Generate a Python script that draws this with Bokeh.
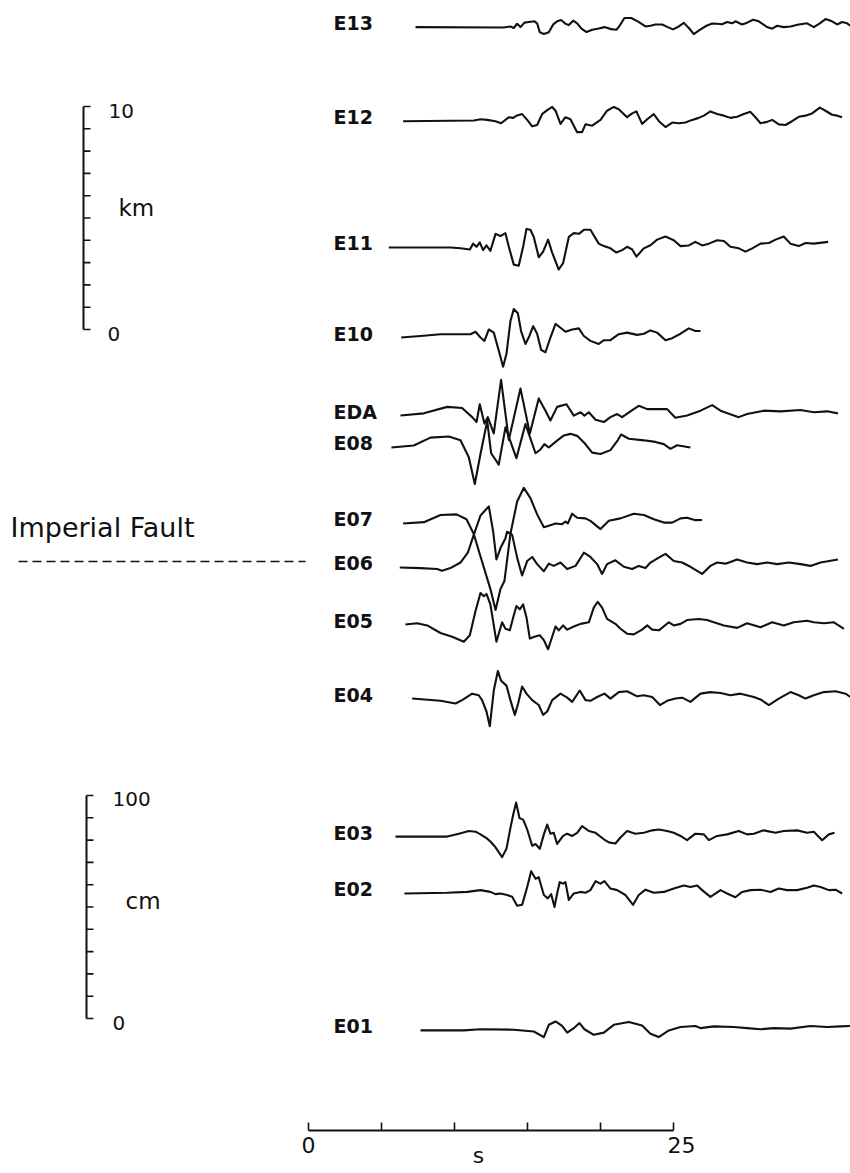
import numpy as np
from bokeh.plotting import figure
from bokeh.models import Range1d
from bokeh.core.properties import value
from bokeh.embed import file_html
from bokeh.resources import INLINE

# ---------------- data ----------------
stations = ["E13", "E12", "E11", "E10", "EDA", "E08", "E07",
            "E06", "E05", "E04", "E03", "E02", "E01"]
# vertical placement of each trace on the section (km, same scale as km bar)
station_km = [13.56, 9.37, 3.68, -0.36, -3.86, -5.29, -8.70,
              -10.67, -13.23, -16.55, -22.74, -25.29, -31.43]

time_ticks = [0, 5, 10, 15, 20, 25]
time_tick_labels = {0: "0", 25: "25"}
km_ticks = [0, 1, 2, 3, 4, 5, 6, 7, 8, 9, 10]
cm_ticks = [0, 10, 20, 30, 40, 50, 60, 70, 80, 90, 100]

# (time s, displacement cm)
E13 = [(7.33, 0), (13.38, -0.15), (13.83, 0.3), (14.06, -0.4), (14.29, 1.5), (14.52, 0),
       (14.79, 2.0), (15.09, 2.3), (15.48, 2.6), (15.66, 1.7), (15.84, -2.3), (16.12, -3.1),
       (16.46, -2.3), (16.76, 1.2), (17.03, 2.6), (17.30, 3.2), (17.60, 1.5), (17.83, 0.9),
       (18.13, 2.9), (18.40, 1.7), (18.70, -0.7), (19.04, -2.2), (19.43, -1.2), (19.88, -0.6),
       (20.27, 0), (20.73, -0.9), (21.09, -1.2), (21.32, 0.7), (21.64, 4.1), (22.10, 4.1),
       (22.55, 2.6), (23.08, 0.3), (23.42, 0.6), (23.76, 1.2), (24.22, 1.2), (24.61, 0),
       (24.97, -1.0), (25.36, 0.3), (25.71, 1.9), (26.05, -0.4), (26.39, -3.1), (26.80, -1.2),
       (27.26, 0.6), (27.65, 1.6), (27.99, 1.5), (28.33, 1.3), (28.67, 2.3), (29.02, 1.7),
       (29.24, 2.6), (29.70, 1.2), (30.04, 2.0), (30.45, 3.3), (30.84, 2.6), (31.41, 0),
       (31.76, -0.7), (32.10, 0.6), (32.55, 0), (33.01, 0.3), (33.58, 1.2), (34.15, 1.7),
       (34.61, 0), (35.02, 1.7), (35.41, 3.6), (35.86, 2.6), (36.21, 1.2), (36.55, 2.3),
       (36.89, 1.7), (37.12, 0.6)]

E12 = [(6.48, -0.3), (11.32, 0), (11.78, 0.6), (12.24, 0.3), (12.81, -0.3), (13.19, -1.2),
       (13.49, 0.3), (13.72, 1.5), (14.02, 1.2), (14.29, 2.3), (14.63, 2.9), (14.98, 0.3),
       (15.32, -2.6), (15.66, -2.0), (16.00, 2.9), (16.35, 4.7), (16.69, 6.1), (16.92, 4.4),
       (17.26, -1.5), (17.60, 1.5), (17.94, 0.6), (18.40, -5.2), (18.74, -5.2), (18.97, -1.7),
       (19.43, -2.3), (20.00, 0.3), (20.45, 4.4), (20.91, 6.1), (21.25, 5.1), (21.82, 1.5),
       (22.17, 3.2), (22.46, 4.1), (22.85, -1.5), (23.20, 0.6), (23.65, 2.9), (24.00, -0.3),
       (24.45, -2.9), (24.91, -0.9), (25.36, -1.2), (25.82, -0.9), (26.28, 0.3), (26.73, 1.2),
       (27.08, 2.2), (27.53, 4.1), (27.99, 2.9), (28.45, 2.2), (28.90, 1.2), (29.36, 1.7),
       (29.82, 2.9), (30.27, 3.9), (30.61, 1.5), (30.96, -1.2), (31.41, -0.6), (31.76, 0.3),
       (32.21, -1.7), (32.67, -2.0), (33.12, -0.3), (33.58, 1.7), (34.04, 2.2), (34.49, 3.2),
       (35.02, 5.8), (35.41, 4.4), (35.86, 2.6), (36.21, 2.2), (36.55, 1.5)]

E11 = [(5.50, 0), (9.72, 0), (10.41, -0.4), (11.05, -0.9), (11.28, 1.7), (11.51, 0.3),
       (11.73, 2.3), (11.96, -1.2), (12.19, 0.9), (12.46, -1.5), (12.81, 6.1), (13.15, 5.1),
       (13.49, 6.4), (13.72, 0.3), (14.06, -7.7), (14.40, -8.2), (14.70, 0.3), (14.93, 8.3),
       (15.20, 7.9), (15.43, 4.7), (15.77, -4.4), (16.07, -1.9), (16.41, 3.5), (16.69, -2.3),
       (17.14, -9.9), (17.44, -7.0), (17.83, 4.7), (18.17, 6.4), (18.52, 6.1), (18.86, 7.9),
       (19.31, 7.9), (19.88, 1.7), (20.23, 0.6), (20.68, -0.4), (21.09, -2.3), (21.48, -1.2),
       (21.82, 0.3), (22.17, -0.9), (22.46, -4.1), (22.97, -0.4), (23.42, 1.0), (23.88, 3.5),
       (24.45, 4.9), (25.02, 3.2), (25.48, 0.6), (26.05, 0.9), (26.50, 2.5), (26.96, 0.9),
       (27.42, 1.7), (27.99, 3.2), (28.45, 2.9), (28.90, 0.3), (29.47, -0.4), (29.93, -1.9),
       (30.39, -0.4), (30.96, 1.7), (31.53, 2.0), (31.99, 3.5), (32.55, 4.9), (33.01, 1.7),
       (33.58, 0.6), (34.04, 2.0), (34.61, 1.7), (35.59, 2.5)]

E10 = [(6.35, 0), (7.67, 0.7), (9.04, 1.5), (11.09, 1.5), (11.44, 2.6), (11.78, 0),
       (12.05, -1.5), (12.35, 3.6), (12.69, 2.2), (13.03, -5.8), (13.33, -13.1), (13.56, -7.3),
       (13.83, 7.3), (14.06, 12.8), (14.34, 10.9), (14.56, 2.9), (14.86, -2.9), (15.13, 0.7),
       (15.39, 5.1), (15.66, 1.7), (15.93, -5.5), (16.23, -6.6), (16.57, 0), (16.92, 6.1),
       (17.26, 4.4), (17.60, 2.6), (18.06, 3.6), (18.52, 4.1), (18.86, 0.7), (19.31, -1.5),
       (19.88, -2.9), (20.23, -1.2), (20.68, -1.2), (21.25, 1.5), (21.82, 2.2), (22.51, 1.2),
       (22.97, 1.7), (23.42, 3.2), (23.88, 2.2), (24.45, -1.2), (24.91, -0.3), (25.48, 1.7),
       (26.05, 4.1), (26.50, 2.9), (26.85, 2.9)]

EDA = [(6.30, 0), (7.90, 1.0), (9.50, 3.9), (10.52, 3.4), (11.21, -0.7), (11.51, -2.9),
       (11.73, 5.1), (12.05, -3.6), (12.28, -0.7), (12.69, -8.0), (13.19, 16.0), (13.72, -10.9),
       (14.52, 12.1), (15.16, -8.0), (15.77, 7.7), (16.23, 2.2), (16.57, -2.2), (17.03, 3.9),
       (17.67, 5.1), (18.17, 0), (18.63, 1.5), (18.90, 0), (19.20, 1.5), (19.66, -1.9),
       (20.23, -2.9), (20.68, -0.7), (21.14, 0.7), (21.48, -0.7), (22.28, 2.9), (22.62, 4.4),
       (23.20, 2.9), (24.56, 2.9), (25.13, -1.0), (25.93, 0), (26.85, 2.2), (27.65, 4.7),
       (28.22, 2.2), (29.47, -0.7), (30.04, 0.7), (31.18, 2.2), (32.33, 1.9), (33.70, 2.5),
       (34.61, 1.5), (35.52, 1.9), (36.26, 1.0)]

E08 = [(5.68, 0), (7.21, 0.9), (8.35, 4.4), (9.61, 4.9), (10.41, 3.2), (10.98, -4.4),
       (11.39, -16.4), (11.78, -2.9), (12.24, 11.9), (12.51, -2.6), (13.03, -7.7), (13.49, 9.0),
       (14.24, -4.8), (14.86, 10.5), (15.55, -2.6), (15.89, -0.9), (16.16, 1.5), (16.46, 0),
       (16.92, 2.5), (17.49, 5.4), (17.94, 6.1), (18.40, 5.2), (18.90, 2.0), (19.43, -2.3),
       (20.00, -2.9), (20.68, -1.2), (21.18, 3.2), (21.41, 5.8), (21.94, 3.9), (22.97, 3.2),
       (23.76, 2.5), (24.34, 1.5), (24.79, -0.6), (25.25, 1.0), (26.16, 0)]

E07 = [(6.48, 0), (7.90, 0.6), (9.04, 3.8), (10.14, 4.1), (10.82, 1.9), (11.32, -4.7),
       (11.78, -14.8), (12.19, -23.6), (12.46, -29.4), (12.81, -38.8), (13.15, -29.4),
       (13.42, -25.8), (13.83, -4.7), (14.29, 9.9), (14.75, 16.0), (15.20, 11.4), (15.66, 4.1),
       (16.12, -1.7), (16.46, -1.0), (16.92, 0), (17.37, -0.3), (17.60, 0.9), (17.76, 0),
       (18.06, 4.4), (18.40, 2.6), (18.97, 2.3), (19.31, 1.2), (20.00, -2.5), (20.57, 1.2),
       (21.37, 2.3), (22.28, 4.4), (22.97, 3.8), (23.65, 1.9), (24.34, 0.4), (24.91, 0.4),
       (25.48, 2.3), (25.93, 2.6), (26.50, 1.5), (26.96, 1.6)]

E06 = [(6.25, 0), (7.67, -0.3), (8.81, -0.7), (9.15, -1.5), (9.72, -0.3), (10.41, 2.2),
       (10.91, 6.6), (11.32, 14.6), (11.78, 23.3), (12.35, 27.4), (12.65, 16.0), (12.87, 3.6),
       (13.15, 8.7), (13.49, 13.1), (13.60, 16.0), (13.95, 14.6), (14.29, 4.4), (14.63, -3.6),
       (14.98, 2.9), (15.32, 4.7), (15.66, 1.5), (16.12, -1.7), (16.46, 1.7), (16.80, 0.7),
       (17.26, 2.2), (17.72, -0.7), (18.29, 0.7), (18.86, 6.6), (19.31, 4.7), (19.77, 1.5),
       (20.11, -2.9), (20.45, 1.5), (21.02, 3.2), (21.60, 0.3), (22.17, -0.7), (22.62, 0.7),
       (23.08, -0.3), (23.42, 2.2), (23.99, 4.4), (24.45, 6.1), (25.02, 2.9), (25.59, 2.2),
       (26.16, 0.3), (26.96, -2.9), (27.53, 0.7), (27.99, 2.2), (28.56, 1.7), (29.36, 3.6),
       (30.04, 2.2), (30.73, 1.5), (31.41, 2.2), (32.10, 1.5), (32.90, 2.2), (33.70, 1.5),
       (34.38, 0.7), (35.07, 2.2), (36.26, 3.6)]

E05 = [(6.64, 0), (7.44, 0.6), (8.13, -0.4), (9.04, -3.8), (9.84, -5.5), (10.64, -7.7),
       (11.05, -4.8), (11.44, 6.1), (11.78, 14.1), (12.01, 12.7), (12.19, 13.7), (12.46, 9.0),
       (12.87, -7.7), (13.26, 1.0), (13.49, -1.9), (13.79, -2.6), (14.02, 3.2), (14.24, 8.3),
       (14.47, 6.8), (14.70, 9.0), (14.93, 3.2), (15.16, -6.3), (15.48, -5.5), (15.84, -4.8),
       (16.12, -7.0), (16.41, -11.1), (16.69, -5.5), (16.92, -0.9), (17.14, -2.6), (17.44, -0.4),
       (17.72, -2.3), (18.17, -0.9), (18.63, 0.3), (19.20, 1.0), (19.54, 7.6), (19.81, 10.2),
       (20.11, 7.6), (20.45, 2.5), (21.02, 0.3), (21.37, -1.9), (21.82, -4.1), (22.28, -4.4),
       (22.85, -2.3), (23.20, -0.4), (23.54, -2.3), (24.00, -2.6), (24.68, 1.0), (25.02, -0.4),
       (25.48, 0.3), (25.93, 2.0), (26.73, 2.5), (27.30, 2.0), (27.76, 1.0), (28.45, -0.4),
       (29.36, -1.5), (30.04, 0.6), (30.96, -1.2), (31.76, 1.0), (32.55, -0.4), (33.24, 1.0),
       (34.15, 1.7), (34.61, 1.0), (35.30, 0.6), (35.99, 1.0), (36.67, -1.9)]

E04 = [(7.10, 0), (9.04, -1.0), (10.07, -2.2), (10.52, -0.7), (11.21, 2.2), (11.66, 1.5),
       (11.89, -0.7), (12.19, -5.8), (12.42, -12.4), (12.69, 3.6), (12.97, 12.4), (13.19, 8.0),
       (13.56, 5.8), (13.83, -0.7), (14.13, -7.3), (14.36, -2.2), (14.63, 5.4), (14.93, 2.2),
       (15.32, -0.7), (15.77, -2.9), (16.07, -7.3), (16.35, -5.8), (16.69, -0.7), (17.26, 2.2),
       (17.72, 0.4), (18.06, -1.5), (18.58, 3.6), (18.97, -0.7), (19.31, -1.0), (19.77, 0.7),
       (20.27, 2.2), (20.68, 0), (21.25, 2.9), (21.82, 3.3), (22.51, 1.0), (22.97, 1.5),
       (23.54, 0.7), (24.07, -2.9), (24.56, -1.0), (25.13, 0), (25.59, 0.4), (26.16, -1.5),
       (26.85, 2.2), (27.53, 2.9), (28.22, 2.5), (28.90, 1.5), (29.59, 2.2), (30.50, 0.7),
       (30.96, -0.4), (31.53, -2.9), (32.21, 0), (33.01, 2.9), (33.58, 1.5), (34.04, 0),
       (34.61, 1.5), (35.30, 2.9), (36.10, 3.3), (36.78, 2.2), (37.12, 0.7)]

E03 = [(5.96, 0), (9.50, 0), (10.30, 1.3), (10.98, 2.5), (11.44, 2.2), (11.78, 1.0),
       (12.19, -0.7), (12.46, -2.2), (12.81, -4.8), (13.26, -9.2), (13.56, -5.5), (13.83, 3.9),
       (14.02, 9.8), (14.22, 15.3), (14.45, 8.3), (14.70, 7.6), (14.98, 3.2), (15.32, -4.1),
       (15.55, -3.3), (15.84, -5.5), (16.12, 1.0), (16.35, 5.4), (16.57, 1.3), (16.80, 1.7),
       (17.03, -3.3), (17.44, 0.3), (17.72, 1.3), (18.06, 0.3), (18.40, 1.7), (18.74, 4.7),
       (19.20, 2.5), (19.66, 1.7), (20.23, -1.2), (20.57, -2.6), (21.02, -3.1), (21.37, -0.4),
       (21.82, 2.5), (22.39, 1.3), (22.97, 1.7), (23.54, 2.8), (24.00, 3.2), (24.56, 2.5),
       (25.02, 1.7), (25.48, 0.3), (25.93, -1.6), (26.50, 1.3), (27.08, 1.0), (27.42, -1.6),
       (27.99, 0.3), (28.67, 1.0), (29.47, 2.5), (30.04, 1.0), (30.50, 1.3), (31.18, 2.8),
       (31.99, 1.7), (32.55, 2.5), (33.47, 2.8), (34.15, 1.7), (34.61, 2.2), (35.18, -1.6),
       (35.64, 1.0), (36.03, 1.7)]

E02 = [(6.57, 0), (9.50, 0.3), (10.87, 0.7), (11.78, 1.5), (12.46, 0.7), (12.81, -0.3),
       (13.15, 0), (13.61, -0.7), (13.95, -1.5), (14.29, -5.5), (14.63, -5.1), (14.98, 2.9),
       (15.25, 10.0), (15.55, 6.6), (15.77, 7.3), (16.12, -0.7), (16.39, -2.2), (16.62, -0.3),
       (16.85, -6.1), (17.03, 0), (17.21, 5.1), (17.44, 4.4), (17.60, 5.1), (17.83, -2.9),
       (18.17, 0), (18.63, 0.7), (18.97, 0.3), (19.31, 1.5), (19.66, 5.5), (20.00, 4.4),
       (20.27, 5.5), (20.68, 2.2), (21.14, 1.5), (21.71, -0.7), (22.23, -5.1), (22.62, -0.7),
       (23.08, 1.7), (23.65, 0.3), (24.34, 0.7), (25.02, 2.2), (25.71, 3.6), (26.16, 2.9),
       (26.62, 3.6), (26.96, 1.5), (27.53, -1.5), (28.22, 1.5), (28.67, 0), (29.24, -1.7),
       (29.70, 0.7), (30.27, 1.5), (30.96, 1.7), (31.64, 0.7), (32.21, 2.2), (32.78, 1.5),
       (33.47, 1.5), (34.15, 2.6), (34.61, 3.6), (35.07, 2.9), (35.64, 1.5), (36.10, 1.7),
       (36.55, 0)]

E01 = [(7.67, 0), (10.64, 0), (11.78, 0.5), (14.06, 0.3), (15.43, -0.5), (16.12, -3.0),
       (16.46, 2.5), (16.92, 4.0), (17.37, 2.0), (17.72, -1.0), (18.17, 1.0), (18.56, 3.3),
       (18.90, 0.5), (19.54, -2.0), (20.23, -1.0), (20.91, 2.5), (21.94, 3.8), (22.85, 2.2),
       (23.42, -1.5), (23.99, -3.0), (24.68, 0), (25.48, 1.5), (26.50, 2.0), (26.85, 1.0),
       (27.76, 1.8), (29.13, 1.5), (30.04, 1.0), (30.96, 0.5), (31.87, 1.0), (33.01, 0.8),
       (34.38, 2.0), (35.52, 1.5), (36.44, 1.8), (37.12, 2.0)]

traces = [E13, E12, E11, E10, EDA, E08, E07, E06, E05, E04, E03, E02, E01]

# ---------------- layout / scales ----------------
W, H = 850, 1173
PX_PER_S = 14.6        # horizontal scale of the time axis
PX_PER_KM = 22.3       # vertical scale of the km bar
KM_PER_CM = 0.1        # 100 cm bar has the same length as the 10 km bar
T0_PX, KM0_PX = 308, 329


def xs(px):
    return (px - T0_PX) / PX_PER_S


def ys(px):
    return (KM0_PX - px) / PX_PER_KM


p = figure(width=W, height=H, output_backend="svg", toolbar_location=None,
           x_range=Range1d(xs(0), xs(W)), y_range=Range1d(ys(H), ys(0)),
           min_border=0, background_fill_color="white", border_fill_color="white")
p.axis.visible = False
p.grid.visible = False
p.outline_line_color = None

INK = "#111111"
LABEL_FONT = value("DejaVu Sans")

# seismograms
for name, off, data in zip(stations, station_km, traces):
    t, d = zip(*data)
    y = off + KM_PER_CM * np.array(d)
    p.line(list(t), list(y), line_color=INK, line_width=2.1, line_join="round")

# station labels
p.text(x=[xs(333)] * len(stations), y=[s + 0.18 for s in station_km], text=stations,
       text_font=LABEL_FONT, text_font_style="bold", text_font_size="19px",
       text_align="left", text_baseline="middle", text_color=INK)

# km scale bar
kx = xs(83)
tick_len = 7 / PX_PER_S
p.line([kx, kx], [km_ticks[0], km_ticks[-1]], line_color=INK, line_width=2)
p.segment(x0=[kx] * len(km_ticks), y0=km_ticks, x1=[kx + tick_len] * len(km_ticks),
          y1=km_ticks, line_color=INK, line_width=1.6)
p.text(x=[xs(108), xs(107)], y=[km_ticks[-1], km_ticks[0]], text=["10", "0"],
       y_offset=[4, 4], text_font=LABEL_FONT, text_font_size="20px",
       text_align="left", text_baseline="middle", text_color=INK)
p.text(x=[xs(118)], y=[ys(207)], text=["km"], text_font=LABEL_FONT, text_font_size="23px",
       text_align="left", text_baseline="middle", text_color=INK)

# cm scale bar
cx = xs(86)
cm0 = ys(1018)
cm_y = [cm0 + KM_PER_CM * c for c in cm_ticks]
p.line([cx, cx], [cm_y[0], cm_y[-1]], line_color=INK, line_width=2)
p.segment(x0=[cx] * len(cm_y), y0=cm_y, x1=[cx + tick_len] * len(cm_y), y1=cm_y,
          line_color=INK, line_width=1.6)
p.text(x=[xs(112), xs(112)], y=[cm_y[-1], cm_y[0]], text=["100", "0"],
       y_offset=[3, 4], text_font=LABEL_FONT, text_font_size="20px",
       text_align="left", text_baseline="middle", text_color=INK)
p.text(x=[xs(125)], y=[ys(900)], text=["cm"], text_font=LABEL_FONT, text_font_size="23px",
       text_align="left", text_baseline="middle", text_color=INK)

# Imperial Fault
p.text(x=[xs(10)], y=[ys(527)], text=["Imperial Fault"], text_font=LABEL_FONT,
       text_font_size="27px", text_align="left", text_baseline="middle", text_color=INK)
p.line([xs(18), xs(305)], [ys(561), ys(561)], line_color=INK, line_width=1.5,
       line_dash="9 5")

# time axis
ay = ys(1130)
p.line([time_ticks[0], time_ticks[-1]], [ay, ay], line_color=INK, line_width=2)
p.segment(x0=time_ticks, y0=[ay] * len(time_ticks), x1=time_ticks,
          y1=[ay + 8 / PX_PER_KM] * len(time_ticks), line_color=INK, line_width=1.6)
lab_t = list(time_tick_labels.keys())
p.text(x=lab_t, y=[ay] * len(lab_t), text=[time_tick_labels[k] for k in lab_t],
       x_offset=[0, 8], y_offset=[14, 14], text_font=LABEL_FONT, text_font_size="22px",
       text_align="center", text_baseline="middle", text_color=INK)
p.text(x=[xs(478)], y=[ys(1155)], text=["s"], text_font=LABEL_FONT, text_font_size="22px",
       text_align="center", text_baseline="middle", text_color=INK)

open("out.html", "w").write(file_html(p, INLINE))
